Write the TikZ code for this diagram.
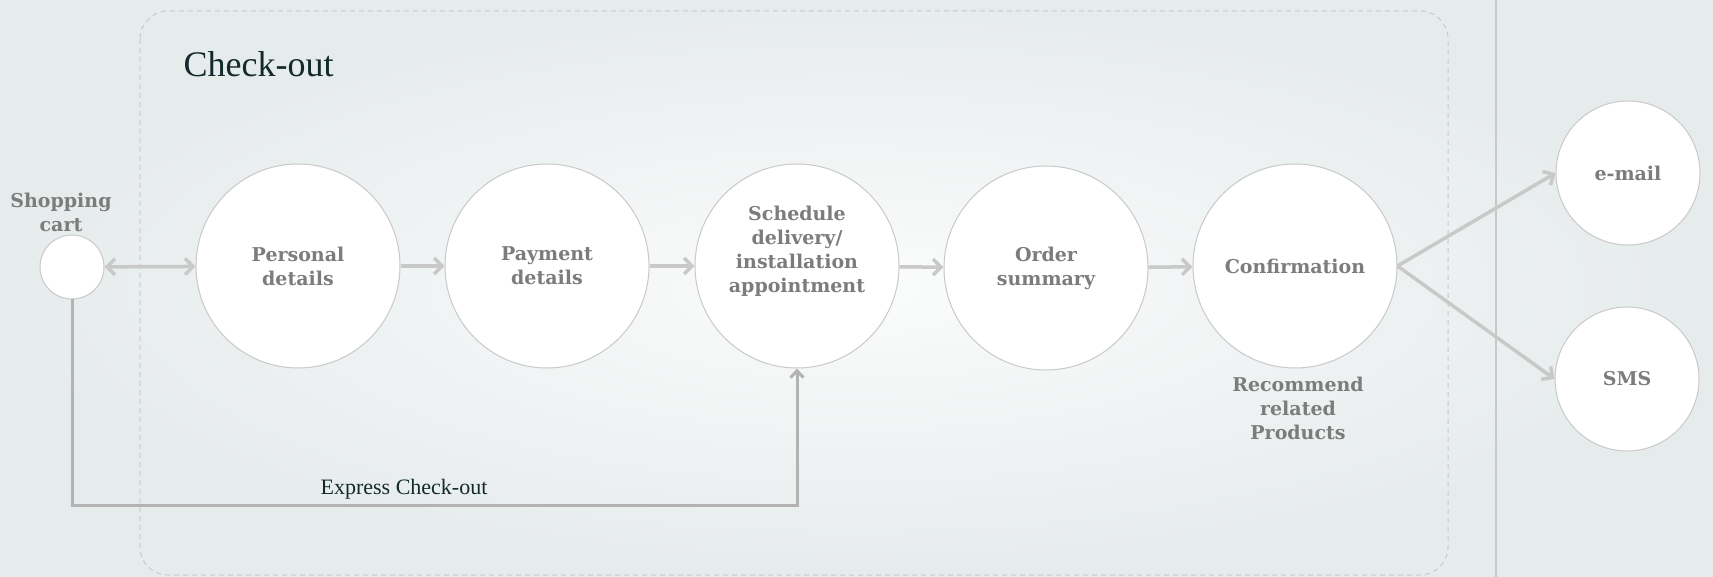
\documentclass[tikz,border=0pt]{standalone}
\usepackage{fontspec}
\setmainfont{DejaVu Serif}
\newfontfamily\lserif{Liberation Serif}
\usetikzlibrary{arrows.meta}
\definecolor{bgin}{HTML}{FBFCFC}
\definecolor{bgout}{HTML}{E6EBEB}
\definecolor{edgegray}{HTML}{C9C9C9}
\definecolor{lblgray}{HTML}{7C7C7C}
\definecolor{titlecol}{HTML}{132A2C}
\definecolor{expressgray}{HTML}{B3B3B3}
\begin{document}
\begin{tikzpicture}[x=1pt,y=-1pt,
  >={Straight Barb[length=8pt,width=16pt]},
  stepcircle/.style={circle,draw=edgegray,line width=1pt,fill=white,minimum size=204pt,inner sep=0pt},
  cartcircle/.style={stepcircle,minimum size=64pt},
  chancircle/.style={stepcircle,minimum size=144pt},
  lbltext/.style={font=\fontsize{19}{24}\selectfont\bfseries,text=lblgray,align=center},
  flow/.style={draw=edgegray,line width=3.5pt,->},
  express/.style={draw=expressgray,line width=3pt,-{Straight Barb[length=7pt,width=13pt]}},
]
\useasboundingbox (0,0) rectangle (1713,577);
\shade[inner color=bgin,outer color=bgout] (0,0) rectangle (1713,577);
% check-out frame
\draw[edgegray,line width=1pt,dash pattern=on 5pt off 4pt,rounded corners=28pt] (140,11) rectangle (1448,575);
\draw[edgegray,line width=1.5pt] (1496,0) -- (1496,577);
\node[font=\lserif\fontsize{36}{40}\selectfont,text=titlecol,anchor=base west] (ttl) at (180,77) {Check-out};

% nodes
\node[cartcircle] (cart) at (72,267) {};
\node[lbltext] (cartlbl) at (61,212) {Shopping\\cart};
\node[stepcircle,lbltext] (pers) at (298,266) {Personal\\details};
\node[stepcircle,lbltext] (pay) at (547,266) {Payment\\details};
\node[stepcircle] (sched) at (797,266) {};
\node[lbltext] (schedlbl) at (797,251) {Schedule\\delivery/\\installation\\appointment};
\node[stepcircle,lbltext] (order) at (1046,268) {Order\\summary};
\node[stepcircle,lbltext] (conf) at (1295,266) {Confirmation};
\node[lbltext] (rec) at (1298,408) {Recommend\\related\\Products};
\node[chancircle,lbltext] (email) at (1628,173) {e-mail};
\node[chancircle,lbltext] (sms) at (1627,379) {SMS};

% connectors
\draw[flow,<->] (cart) -- (pers);
\draw[flow] (pers) -- (pay);
\draw[flow] (pay) -- (sched);
\draw[flow] (sched) -- (order);
\draw[flow] (order) -- (conf);
\draw[flow] (conf.east) -- (email.west);
\draw[flow] (conf.east) -- (sms.west);

\coordinate (bl) at (72,505);
\coordinate (br) at (797,505);
\draw[express] (cart.south) -- (bl) -- (br) -- (sched.south);
\node[font=\lserif\fontsize{22}{24}\selectfont,text=titlecol] (exlbl) at (404,489) {Express Check-out};
\end{tikzpicture}
\end{document}
